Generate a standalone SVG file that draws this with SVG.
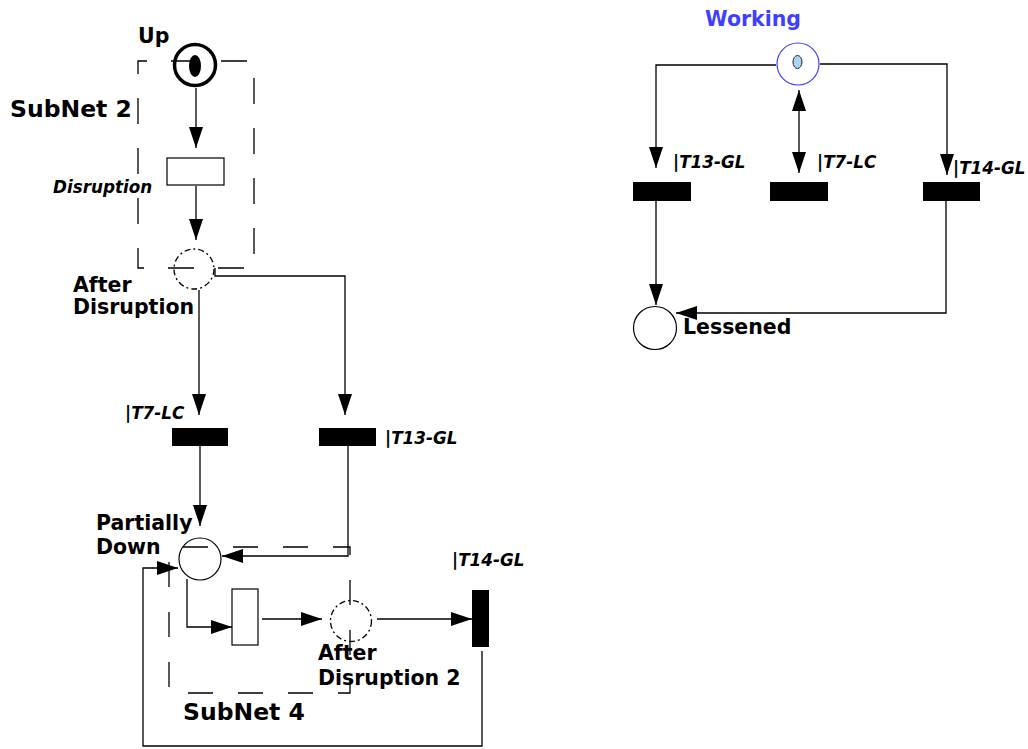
<svg xmlns="http://www.w3.org/2000/svg" width="1028" height="749" viewBox="0 0 1028 749">
  <defs>
    <marker id="arrow" markerUnits="userSpaceOnUse" markerWidth="22" markerHeight="16" viewBox="0 0 22 16" refX="21" refY="8" orient="auto-start-reverse">
      <path d="M0,1 L21,8 L0,15 Z" fill="#000"/>
    </marker>
    <style>
      .lbl { font-family: "DejaVu Sans", "Liberation Sans", sans-serif; font-weight: bold; font-size: 20.5px; fill: #000; }
      .big { font-size: 23.5px; }
      .tl { font-family: "DejaVu Sans", "Liberation Sans", sans-serif; font-weight: bold; font-style: italic; font-size: 16.8px; fill: #000; }
      .arc { fill: none; stroke: #000; stroke-width: 1.3; }
      .place { fill: none; stroke: #000; stroke-width: 1.2; }
      .dashed { fill: none; stroke: #000; stroke-width: 1.3; stroke-dasharray: 6 3 2 3; }
      .trans { fill: #000; }
      .open { fill: #fff; stroke: #000; stroke-width: 1.2; }
      .subnet { fill: none; stroke: #000; stroke-width: 1.3; }
    </style>
  </defs>

  <!-- subnet frames -->
  <g id="subnet2-frame">
    <path class="subnet" d="M138,61 H254 V268 H138 Z" stroke-dasharray="26 24" stroke-dashoffset="17"/>
    <text class="lbl big" x="10" y="117">SubNet 2</text>
  </g>
  <g id="subnet4-frame">
    <path class="subnet" d="M169,547 H350 V693 H169 Z" stroke-dasharray="25 25" stroke-dashoffset="36"/>
    <text class="lbl big" x="183" y="720">SubNet 4</text>
  </g>

  <!-- connectors -->
  <g id="connectors">
    <path class="arc" d="M196,88 V148" marker-end="url(#arrow)"/>
    <path class="arc" d="M196,186 V240" marker-end="url(#arrow)"/>
    <path class="arc" d="M199,290 V415" marker-end="url(#arrow)"/>
    <path class="arc" d="M215,268 V276 H345 V415" marker-end="url(#arrow)"/>
    <path class="arc" d="M200,446 V526" marker-end="url(#arrow)"/>
    <path class="arc" d="M348,446 V556 H222" marker-end="url(#arrow)"/>
    <path class="arc" d="M187,579 V627 H232" marker-end="url(#arrow)"/>
    <path class="arc" d="M262,619 H322" marker-end="url(#arrow)"/>
    <path class="arc" d="M377,619 H472" marker-end="url(#arrow)"/>
    <path class="arc" d="M482,651 V746 H143 V568 H178" marker-end="url(#arrow)"/>

    <path class="arc" d="M776,65 H656 V168" marker-end="url(#arrow)"/>
    <path class="arc" d="M799,90 V173" marker-start="url(#arrow)" marker-end="url(#arrow)"/>
    <path class="arc" d="M820,64 H947 V175" marker-end="url(#arrow)"/>
    <path class="arc" d="M656,201 V305" marker-end="url(#arrow)"/>
    <path class="arc" d="M946,201 V313 H676" marker-end="url(#arrow)"/>
  </g>

  <!-- left net -->
  <g id="up">
    <circle cx="195" cy="65" r="20.5" fill="none" stroke="#000" stroke-width="3.5"/>
    <ellipse cx="195" cy="66" rx="6" ry="11" fill="#000"/>
    <text class="lbl" x="138" y="43" font-size="18">Up</text>
  </g>
  <g id="disruption">
    <rect class="open" x="167" y="158" width="57" height="27"/>
    <text class="tl" x="53" y="193">Disruption</text>
  </g>
  <g id="after-disruption">
    <circle class="dashed" cx="194" cy="269" r="20"/>
    <text class="lbl" x="73" y="292">After<tspan x="73" y="314">Disruption</tspan></text>
  </g>
  <g id="t7-lc-left">
    <rect class="trans" x="172" y="428" width="56" height="18"/>
    <text class="tl" x="125" y="419">|T7-LC</text>
  </g>
  <g id="t13-gl-left">
    <rect class="trans" x="319" y="428" width="57" height="18"/>
    <text class="tl" x="385" y="444">|T13-GL</text>
  </g>
  <g id="partially-down">
    <circle class="place" cx="200" cy="559" r="21"/>
    <text class="lbl" x="96" y="530">Partially</text>
    <text class="lbl" x="96" y="554">Down</text>
  </g>
  <g id="subnet4-transition">
    <rect class="open" x="232" y="589" width="26" height="56"/>
  </g>
  <g id="after-disruption-2">
    <circle class="dashed" cx="351" cy="621" r="20.5"/>
    <text class="lbl" x="318" y="660">After</text>
    <text class="lbl" x="318" y="685">Disruption 2</text>
  </g>
  <g id="t14-gl-left">
    <rect class="trans" x="472" y="590" width="17" height="57"/>
    <text class="tl" x="452" y="566">|T14-GL</text>
  </g>

  <!-- right net -->
  <g id="working">
    <circle cx="798" cy="64" r="21" fill="none" stroke="#3f3fff" stroke-width="1.2"/>
    <ellipse cx="797.5" cy="62" rx="4.5" ry="6.5" fill="#a9d4f5" stroke="#222" stroke-width="1"/>
    <text class="lbl" x="705" y="26" style="fill:#3f3fff">Working</text>
  </g>
  <g id="t13-gl-right">
    <rect class="trans" x="633" y="182" width="58" height="19"/>
    <text class="tl" x="673" y="168">|T13-GL</text>
  </g>
  <g id="t7-lc-right">
    <rect class="trans" x="770" y="182" width="58" height="19"/>
    <text class="tl" x="817" y="168">|T7-LC</text>
  </g>
  <g id="t14-gl-right">
    <rect class="trans" x="923" y="182" width="57" height="19"/>
    <text class="tl" x="953" y="174">|T14-GL</text>
  </g>
  <g id="lessened">
    <circle class="place" cx="655" cy="328" r="21.5"/>
    <text class="lbl" x="683" y="334">Lessened</text>
  </g>
</svg>
